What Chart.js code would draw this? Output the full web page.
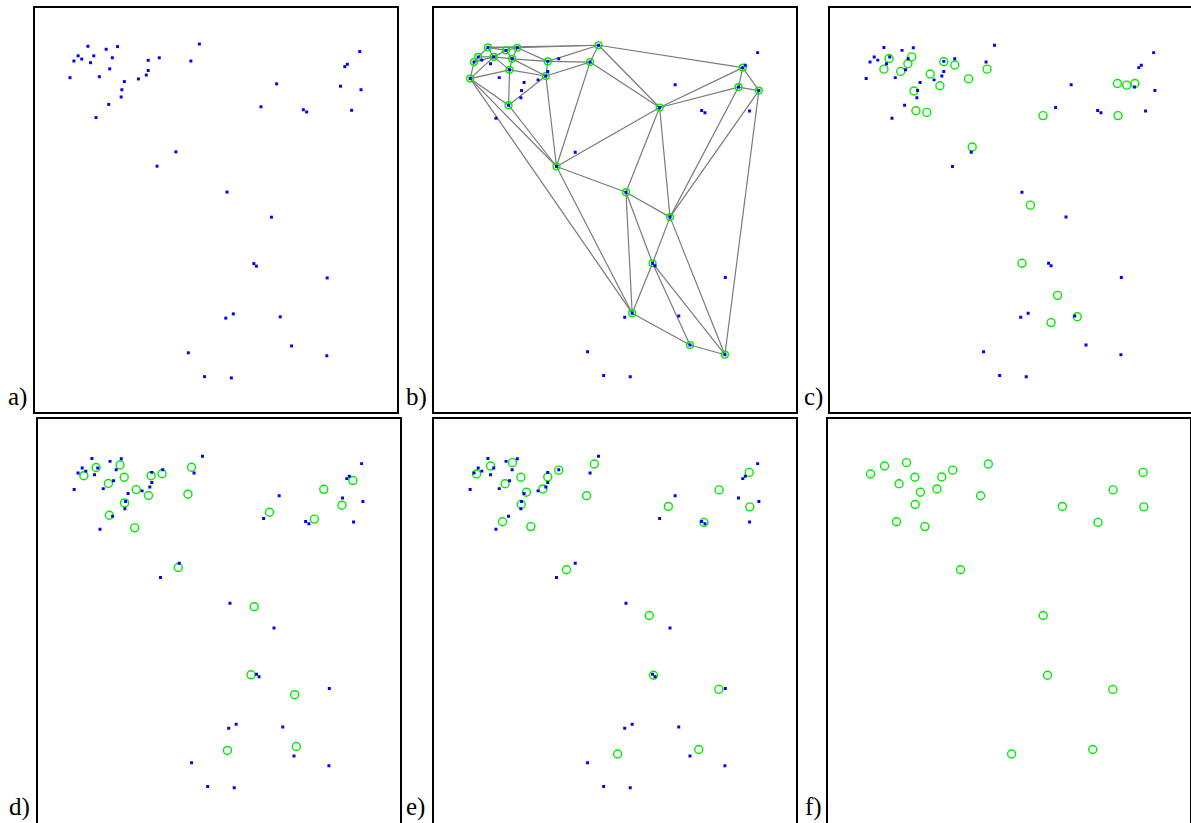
<!DOCTYPE html>
<html>
<head>
<meta charset="utf-8">
<script src="https://cdn.jsdelivr.net/npm/chart.js@4"></script>
<style>
body { margin:0; background:#fff; width:1191px; height:823px; overflow:hidden; position:relative; }
.panel { position:absolute; width:366px; height:408px; border:2px solid #000; box-sizing:border-box; }
.panel div { position:absolute; left:0; top:0; width:362px; height:404px; }
.lab { position:absolute; font-family:"Liberation Serif", serif; font-size:25px; line-height:25px; color:#000; }
</style>
</head>
<body>
<div class="panel" style="left:33px;top:6px"><div><canvas id="ca"></canvas></div></div>
<div class="panel" style="left:432px;top:6px"><div><canvas id="cb"></canvas></div></div>
<div class="panel" style="left:828px;top:6px"><div><canvas id="cc"></canvas></div></div>
<div class="panel" style="left:36px;top:417px"><div><canvas id="cd"></canvas></div></div>
<div class="panel" style="left:432px;top:417px"><div><canvas id="ce"></canvas></div></div>
<div class="panel" style="left:826px;top:417px"><div><canvas id="cf"></canvas></div></div>
<span class="lab" style="left:8px;top:384px">a)</span>
<span class="lab" style="left:406px;top:384px">b)</span>
<span class="lab" style="left:804px;top:384px">c)</span>
<span class="lab" style="left:9px;top:794px">d)</span>
<span class="lab" style="left:406px;top:794px">e)</span>
<span class="lab" style="left:805px;top:794px">f)</span>
<script>
// original point set (same in panels a-e)
var blueX = [51, 69.7, 81.3, 41, 57, 44.7, 36.7, 53.7, 76, 73.3, 32.7, 62.7, 88.3, 85.7, 85, 72.3, 59.3, 112.7, 124, 112.7, 110.7, 102.7, 156.3, 165, 244, 228, 271.3, 274.7, 329, 316.3, 313.7, 309.3, 330.3, 320.7, 141, 121.7, 193.3, 238.7, 220.7, 223.3, 295.7, 199.7, 192, 247.7, 259.3, 295.3, 153.7, 170.3, 197.7];
var blueY = [36, 39, 36.3, 45.7, 45.7, 49, 51, 52.7, 47.7, 59, 68, 67, 72, 80.3, 87.7, 95.3, 108.7, 50.3, 47.7, 60.7, 65.3, 69.3, 51, 33.7, 74.3, 97.7, 100.7, 103, 41.3, 54.3, 56.7, 76.7, 80.3, 101.3, 143.7, 158.3, 184.7, 210.3, 257.7, 260.3, 272.3, 309, 313.3, 312, 341.7, 351.7, 348.7, 373, 374.3];

// b) triangulation nodes and edges (indices into blue points)
var nodes = [0, 1, 2, 3, 4, 6, 8, 9, 10, 15, 17, 20, 22, 23, 25, 30, 31, 32, 35, 36, 37, 38, 41, 44, 45];
var edges = [[0,1],[0,2],[0,23],[2,23],[0,3],[0,4],[1,4],[1,2],[1,8],[2,8],[2,17],[17,23],
  [3,4],[3,6],[6,4],[6,10],[10,4],[10,9],[4,9],[4,8],[8,9],[8,17],[8,20],[9,20],[17,20],[17,22],
  [20,22],[22,23],[10,15],[15,9],[15,20],[15,35],[10,35],[10,41],[35,41],[20,35],[22,35],[22,25],
  [23,25],[23,30],[25,30],[25,31],[30,31],[30,32],[31,32],[35,25],[35,36],[25,36],[25,37],[31,37],
  [32,37],[32,45],[36,37],[36,38],[36,41],[37,38],[37,45],[38,41],[38,44],[38,45],[41,44],[44,45]];

// c) selected points
var cX = [56.3, 79.7, 75.7, 51, 68.3, 112.7, 124, 98.7, 108.7, 138.3, 157.3, 82, 84, 95.3, 215, 291.7, 301.3, 309.7, 292.3, 142, 202, 193.3, 230, 250.3, 223.3];
var cY = [47.3, 45.7, 52.7, 58.3, 60.7, 50.7, 54, 63.3, 75.3, 68.3, 58.3, 80.7, 101, 102.7, 106, 73, 74.7, 73, 106, 138.3, 198, 257.7, 290.7, 312.7, 318.7];

// d) selected points
var dX = [55.3, 80, 42.7, 84.3, 68, 112, 123.3, 153.7, 96.7, 109.3, 150, 84.7, 69, 95, 234, 280.3, 290, 320, 308.7, 140, 218.3, 215, 260, 190.7, 261.7];
var dY = [45.3, 42.7, 53.7, 55.3, 61.7, 53.7, 51.7, 45, 68, 74, 72.7, 81.7, 94.3, 107.3, 91.3, 98.3, 67.7, 58.7, 84, 148, 188.3, 258.3, 278.7, 336, 332];

// e) and f) selected points
var eX = [53.7, 76.3, 39.3, 85, 68.7, 112.7, 124, 160.7, 90.7, 107.7, 152.7, 85.3, 66, 95.3, 237, 273.7, 289.3, 320.3, 321, 132, 217.3, 221.7, 289, 184.7, 268.3];
var eY = [43.7, 40.3, 52, 55.3, 62, 55, 48, 41.7, 70.7, 67.3, 74.3, 83.3, 101, 106, 85.3, 101.7, 68.3, 50.3, 85.7, 150.3, 197.3, 258.7, 273.3, 339.7, 335];

var BLUE = '#0000ff';
var GREEN = 'rgb(0,235,0)';

function pts(xs, ys)
{
  var out = [];
  for (var i = 0; i < xs.length; i++) out.push({x: xs[i], y: ys[i]});
  return out;
}

function blueSet()
{
  return { data: pts(blueX, blueY), pointStyle: 'rect', pointRadius: 2.1, backgroundColor: BLUE, borderWidth: 0, showLine: false };
}

function greenSet(xs, ys, r)
{
  return { data: pts(xs, ys), pointStyle: 'circle', pointRadius: r, backgroundColor: 'rgba(0,0,0,0)', borderColor: GREEN, borderWidth: 1.4, showLine: false };
}

function makeChart(id, datasets)
{
  return new Chart(document.getElementById(id), {
    type: 'scatter',
    data: { datasets: datasets },
    options: {
      responsive: true,
      maintainAspectRatio: false,
      animation: false,
      events: [],
      layout: { padding: 0 },
      plugins: { legend: { display: false }, tooltip: { enabled: false } },
      scales: {
        x: { type: 'linear', display: false, min: 1, max: 363 },
        y: { type: 'linear', display: false, min: 1, max: 405, reverse: true }
      }
    }
  });
}

makeChart('ca', [blueSet()]);

var bSets = [blueSet()];
var nx = [], ny = [];
for (var i = 0; i < nodes.length; i++) { nx.push(blueX[nodes[i]]); ny.push(blueY[nodes[i]]); }
bSets.push(greenSet(nx, ny, 3.4));
for (var k = 0; k < edges.length; k++)
{
  var p = edges[k][0], q = edges[k][1];
  bSets.push({ data: [{x: blueX[p], y: blueY[p]}, {x: blueX[q], y: blueY[q]}], showLine: true, borderColor: '#7a7a7a', borderWidth: 1.2, pointRadius: 0 });
}
makeChart('cb', bSets);

makeChart('cc', [blueSet(), greenSet(cX, cY, 4)]);
makeChart('cd', [blueSet(), greenSet(dX, dY, 4)]);
makeChart('ce', [blueSet(), greenSet(eX, eY, 4)]);
makeChart('cf', [greenSet(eX, eY, 4)]);
</script>
</body>
</html>
